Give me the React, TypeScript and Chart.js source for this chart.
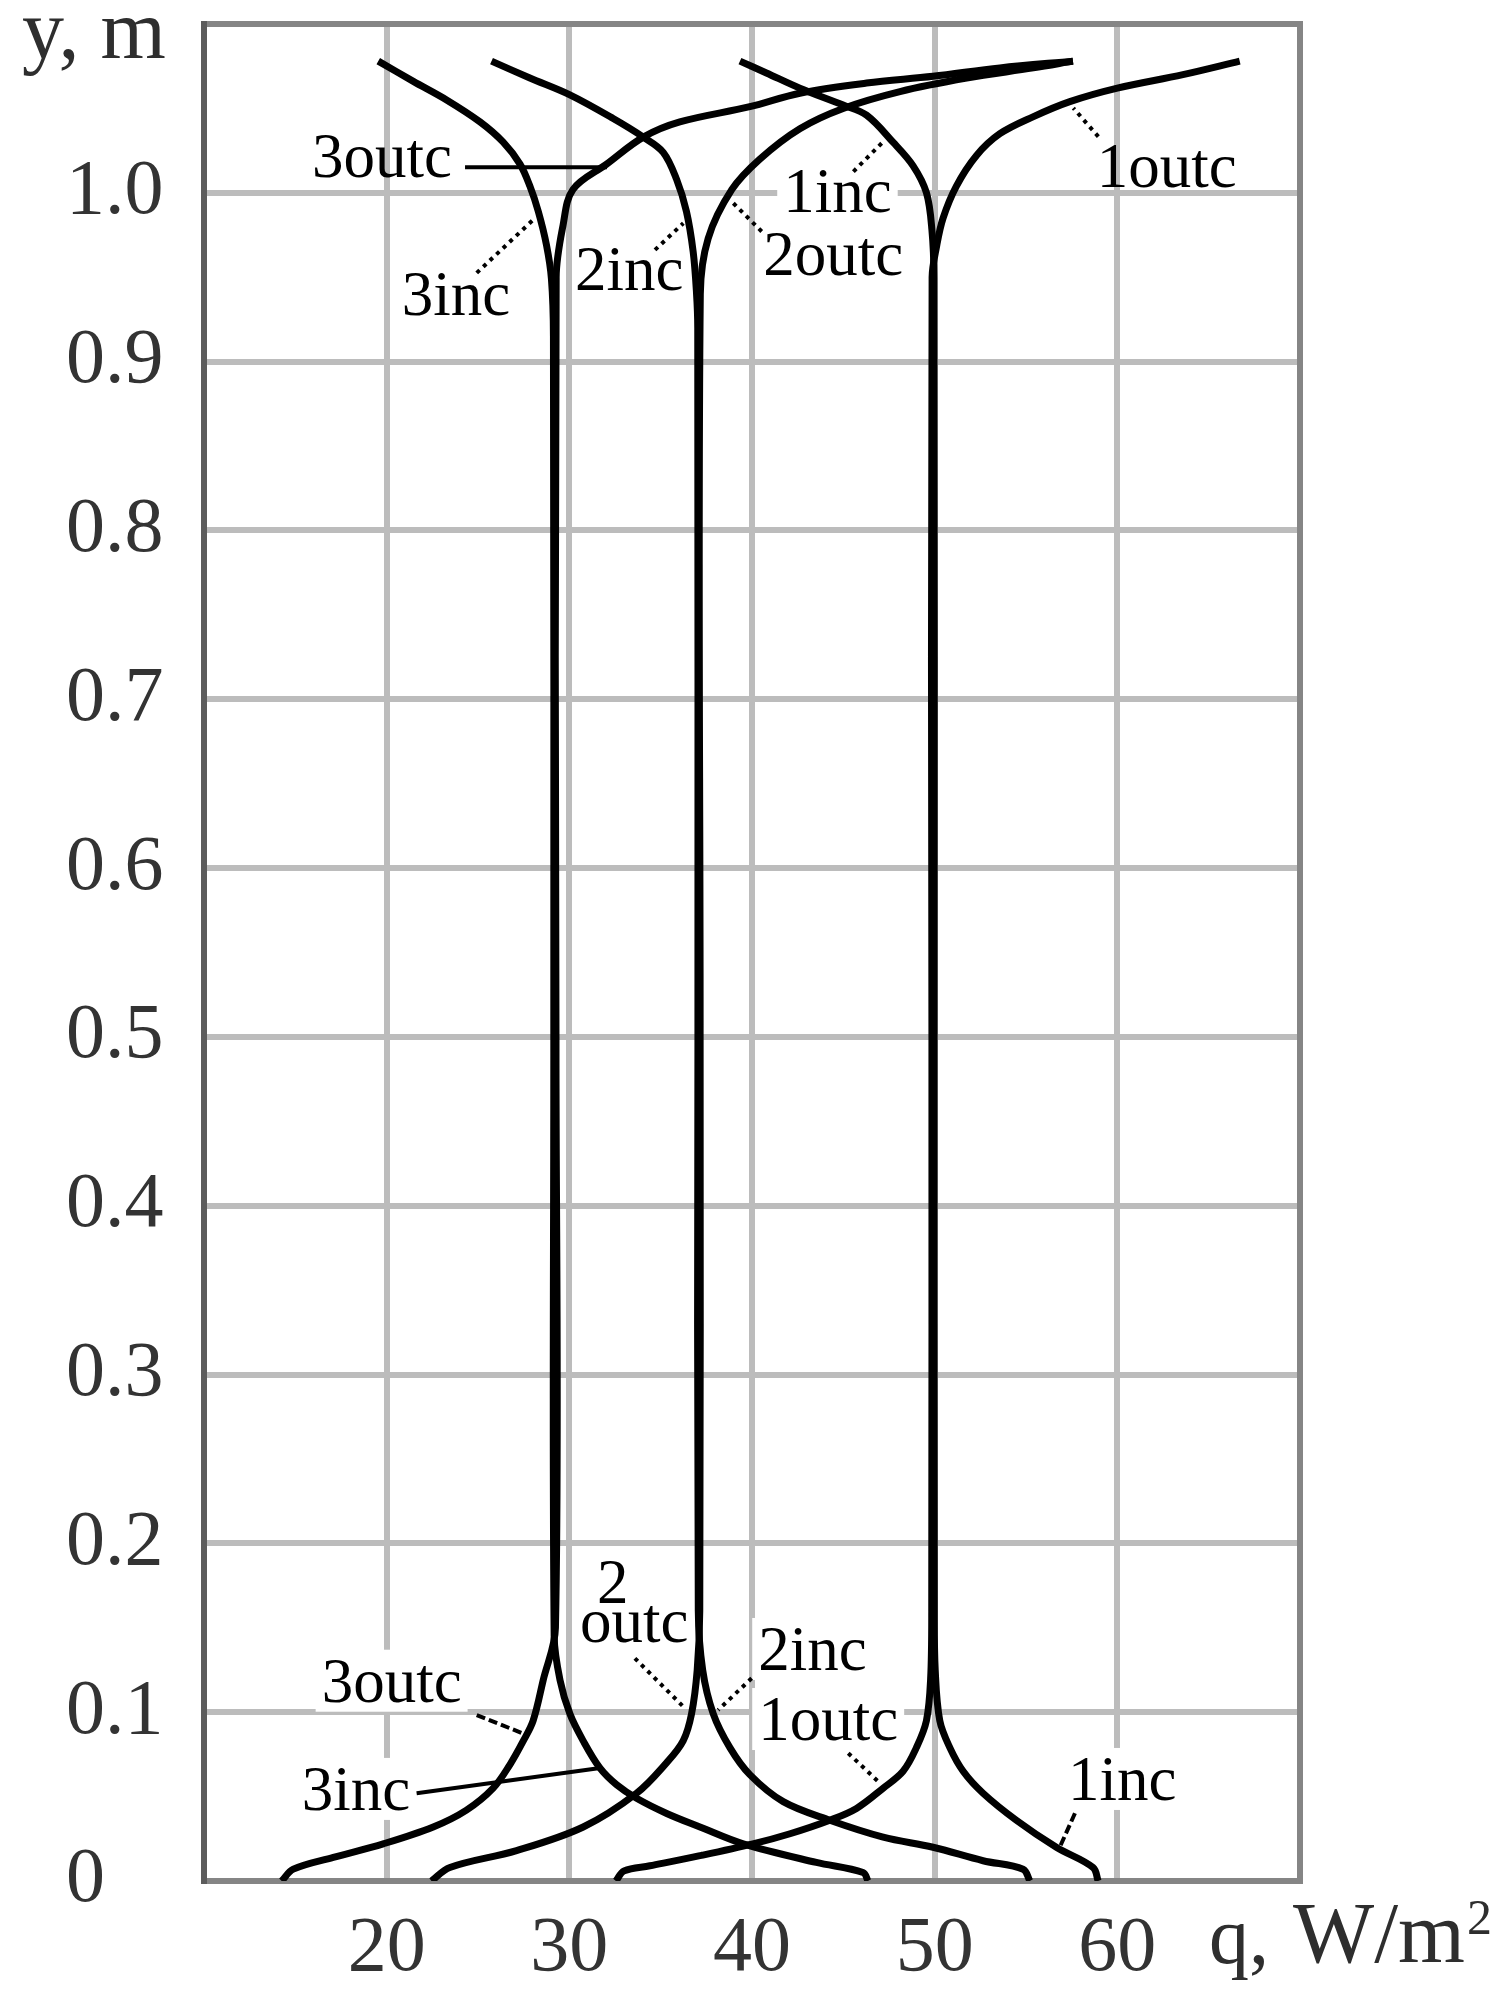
import React, { useEffect, useRef } from 'react';
import { Chart, registerables } from 'chart.js';

Chart.register(...registerables);

const SERIF = '"Liberation Serif", "Times New Roman", serif';

// ---- axes ----
const xTickValues = [20, 30, 40, 50, 60];
const yTickLabels = ['0', '0.1', '0.2', '0.3', '0.4', '0.5', '0.6', '0.7', '0.8', '0.9', '1.0'];
const xAxisTitle = ['q,', 'W/m', '2'];
const yAxisTitle = 'y, m';

// ---- curves: [q (W/m2), y (m)], bottom to top ----
const curve1inc: [number, number][] = [
  [58.95, 0], [58.67, 0.008], [56.66, 0.02], [54.47, 0.036], [52.65, 0.052], [51.56, 0.065],
  [50.83, 0.079], [50.28, 0.095], [50.03, 0.125], [49.98, 0.16], [49.97, 0.5], [49.96, 0.95],
  [49.85, 0.978], [49.55, 1.0], [48.82, 1.016], [47.72, 1.03], [46.27, 1.046], [44.99, 1.052],
  [42.62, 1.062], [40.79, 1.071], [39.34, 1.078],
];
const curve1outc: [number, number][] = [
  [32.55, 0], [33.0, 0.006], [34.41, 0.009], [37.15, 0.015], [40.05, 0.022], [42.08, 0.028],
  [44.26, 0.036], [45.72, 0.043], [47.18, 0.055], [48.27, 0.065], [49.0, 0.079], [49.55, 0.095],
  [49.78, 0.12], [49.84, 0.16], [49.85, 0.5], [49.86, 0.95], [50.1, 0.968], [50.46, 0.985],
  [51.19, 1.004], [52.28, 1.022], [53.57, 1.035], [55.38, 1.045], [57.4, 1.054], [60.0, 1.062],
  [63.59, 1.07], [66.7, 1.078],
];
const curve2inc: [number, number][] = [
  [55.21, 0], [54.84, 0.007], [52.65, 0.012], [49.91, 0.02], [47.18, 0.026], [44.26, 0.036],
  [41.71, 0.047], [39.88, 0.063], [38.79, 0.079], [37.88, 0.099], [37.3, 0.125], [37.06, 0.16],
  [37.04, 0.5], [37.03, 0.92], [36.96, 0.941], [36.78, 0.965], [36.41, 0.989], [35.87, 1.008],
  [35.14, 1.024], [34.05, 1.033], [32.4, 1.044], [30.03, 1.058], [27.84, 1.068], [25.74, 1.078],
];
const curve2outc: [number, number][] = [
  [22.45, 0], [23.46, 0.008], [27.11, 0.018], [30.76, 0.032], [33.68, 0.052], [35.32, 0.07],
  [36.23, 0.083], [36.69, 0.099], [37.0, 0.125], [37.14, 0.16], [37.16, 0.5], [37.17, 0.94],
  [37.6, 0.973], [38.9, 1.002], [40.43, 1.02], [42.62, 1.038], [44.99, 1.05], [48.1, 1.06],
  [51.75, 1.068], [55.4, 1.074], [57.57, 1.078],
];
const curve3inc: [number, number][] = [
  [46.35, 0], [46.08, 0.005], [43.52, 0.011], [39.52, 0.022], [37.15, 0.032], [35.33, 0.04],
  [33.68, 0.049], [32.59, 0.057], [31.67, 0.067], [30.76, 0.083], [30.03, 0.099], [29.49, 0.119],
  [29.17, 0.145], [29.15, 0.5], [29.13, 0.915], [29.02, 0.949], [28.75, 0.969], [28.3, 0.989],
  [27.84, 1.004], [27.3, 1.017], [26.38, 1.03], [25.11, 1.042], [23.28, 1.055], [21.46, 1.066],
  [19.54, 1.078],
];
const curve3outc: [number, number][] = [
  [14.25, 0], [14.89, 0.007], [17.08, 0.014], [19.81, 0.022], [22.55, 0.032], [24.37, 0.042],
  [25.83, 0.055], [26.75, 0.069], [27.48, 0.083], [28.02, 0.095], [28.57, 0.119], [29.24, 0.15],
  [29.27, 0.5], [29.28, 0.95], [29.66, 0.981], [30.2, 1.002], [32.04, 1.017], [34.05, 1.033],
  [36.05, 1.042], [39.88, 1.051], [42.62, 1.059], [46.27, 1.065], [49.91, 1.069], [53.57, 1.074],
  [57.57, 1.078],
];
const seriesNames = ['1inc', '1outc', '2inc', '2outc', '3inc', '3outc'];
const seriesPoints = [curve1inc, curve1outc, curve2inc, curve2outc, curve3inc, curve3outc];

// ---- curve labels (text anchored at left / baseline, in data units) ----
const labelTexts = ['3outc', '3inc', '2inc', '1inc', '2outc', '1outc', '3outc', '3inc', 'outc', '2', '2inc', '1outc', '1inc'];
const labelQ = [15.91, 20.82, 30.31, 41.71, 40.62, 58.87, 16.44, 15.35, 30.58, 31.51, 40.34, 40.34, 57.3];
const labelY = [1.0095, 0.9277, 0.9425, 0.9889, 0.9514, 1.0037, 0.1062, 0.0421, 0.1418, 0.1647, 0.125, 0.0835, 0.048];
const labelBox = [false, false, false, true, false, false, true, true, true, true, true, true, true];

// ---- leader lines ----
const leaderFrom: [number, number][] = [
  [24.29, 1.0151], [24.93, 0.9526], [34.69, 0.9662], [45.55, 1.0126], [40.53, 0.9771], [58.96, 1.0333],
  [24.93, 0.0983], [21.64, 0.052], [33.59, 0.1319], [39.98, 0.1201], [45.27, 0.0757], [57.68, 0.0401],
];
const leaderTo: [number, number][] = [
  [32.06, 1.0151], [28.12, 0.985], [36.24, 0.982], [47.1, 1.0294], [38.89, 0.9948], [57.59, 1.0502],
  [27.67, 0.0865], [31.59, 0.0668], [36.24, 0.1033], [38.15, 0.1013], [47.01, 0.0579], [56.86, 0.0203],
];
const leaderStyle = ['solid', 'dot', 'dot', 'dot', 'dot', 'dot', 'dash', 'solid', 'dot', 'dot', 'dot', 'dash'];

const LABEL_FONT = `63px ${SERIF}`;

export default function App() {
  const ref = useRef<HTMLCanvasElement>(null);

  useEffect(() => {
    const canvas = ref.current;
    if (!canvas) return;

    const annotate = {
      id: 'annotate',
      beforeDatasetsDraw(chart: any) {
        const { ctx, chartArea: a, scales } = chart;
        const xs = scales.x, ys = scales.y;
        ctx.save();
        ctx.font = LABEL_FONT;
        ctx.fillStyle = '#ffffff';
        labelTexts.forEach((t, i) => {
          if (!labelBox[i]) return;
          const px = xs.getPixelForValue(labelQ[i]);
          const py = ys.getPixelForValue(labelY[i]);
          const w = ctx.measureText(t).width;
          ctx.fillRect(px - 6, py - 52, w + 12, 62);
        });
        // plot frame
        ctx.lineCap = 'square';
        ctx.lineWidth = 6;
        ctx.strokeStyle = '#858585';
        ctx.beginPath();
        ctx.moveTo(a.left, a.top);
        ctx.lineTo(a.right, a.top);
        ctx.lineTo(a.right, a.bottom);
        ctx.lineTo(a.left, a.bottom);
        ctx.stroke();
        ctx.strokeStyle = '#5c5c5c';
        ctx.beginPath();
        ctx.moveTo(a.left, a.top);
        ctx.lineTo(a.left, a.bottom);
        ctx.stroke();
        ctx.restore();
      },
      afterDatasetsDraw(chart: any) {
        const { ctx, scales } = chart;
        const xs = scales.x, ys = scales.y;
        ctx.save();
        ctx.strokeStyle = '#000';
        ctx.lineWidth = 4;
        ctx.lineCap = 'butt';
        leaderFrom.forEach((p, i) => {
          const st = leaderStyle[i];
          ctx.setLineDash(st === 'dot' ? [4, 5] : st === 'dash' ? [9, 4] : []);
          ctx.beginPath();
          ctx.moveTo(xs.getPixelForValue(p[0]), ys.getPixelForValue(p[1]));
          ctx.lineTo(xs.getPixelForValue(leaderTo[i][0]), ys.getPixelForValue(leaderTo[i][1]));
          ctx.stroke();
        });
        ctx.setLineDash([]);
        ctx.font = LABEL_FONT;
        ctx.fillStyle = '#000';
        ctx.textAlign = 'left';
        ctx.textBaseline = 'alphabetic';
        labelTexts.forEach((t, i) => {
          ctx.fillText(t, xs.getPixelForValue(labelQ[i]), ys.getPixelForValue(labelY[i]));
        });
        ctx.restore();
      },
      afterDraw(chart: any) {
        const { ctx, chartArea: a } = chart;
        ctx.save();
        ctx.fillStyle = '#2e2e2e';
        ctx.textAlign = 'left';
        ctx.textBaseline = 'alphabetic';
        ctx.font = `84px ${SERIF}`;
        ctx.fillText(yAxisTitle, a.left - 182, a.top + 34);
        ctx.font = `80px ${SERIF}`;
        ctx.fillText(xAxisTitle[0], a.right - 91, a.bottom + 82);
        ctx.font = `86px ${SERIF}`;
        const wx = a.right - 7;
        ctx.fillText(xAxisTitle[1], wx, a.bottom + 81);
        const w = ctx.measureText(xAxisTitle[1]).width;
        ctx.font = `50px ${SERIF}`;
        ctx.fillText(xAxisTitle[2], wx + w + 2, a.bottom + 53);
        ctx.restore();
      },
    };

    const gridColor = (edge: (v: number) => boolean) => (c: any) =>
      c.tick && edge(c.tick.value) ? 'rgba(0,0,0,0)' : '#bcbcbc';

    const noPad = (s: any) => {
      s.paddingTop = 0;
      s.paddingBottom = 0;
      s.paddingLeft = 0;
      s.paddingRight = 0;
    };

    const chart = new Chart(canvas, {
      type: 'scatter',
      data: {
        datasets: seriesPoints.map((pts, i) => ({
          label: seriesNames[i],
          data: pts.map(([q, y]) => ({ x: q, y })),
          showLine: true,
          borderColor: '#000000',
          backgroundColor: '#000000',
          borderWidth: 7,
          pointRadius: 0,
          pointHoverRadius: 0,
          tension: 0.35,
          fill: false,
          borderJoinStyle: 'round',
        })),
      },
      options: {
        responsive: false,
        animation: false,
        devicePixelRatio: 1,
        events: [],
        layout: { padding: { left: 58, right: 196, top: 16, bottom: 0 } },
        plugins: { legend: { display: false }, tooltip: { enabled: false } },
        scales: {
          x: {
            type: 'linear',
            min: 10,
            max: 70,
            afterFit: (s: any) => { s.height = 109; noPad(s); },
            border: { display: false },
            grid: {
              color: gridColor((v) => v <= 10 || v >= 70),
              lineWidth: 6,
              drawTicks: false,
            },
            ticks: {
              stepSize: 10,
              autoSkip: false,
              maxRotation: 0,
              padding: 22,
              color: '#333333',
              font: { family: SERIF, size: 78 },
              callback: (v: any) => (xTickValues.includes(Number(v)) ? String(v) : ''),
            },
          },
          y: {
            type: 'linear',
            min: 0,
            max: 1.1,
            afterFit: (s: any) => { s.width = 138; noPad(s); },
            border: { display: false },
            grid: {
              color: gridColor((v) => v <= 0.0001 || v >= 1.05),
              lineWidth: 6,
              drawTicks: false,
            },
            ticks: {
              stepSize: 0.1,
              autoSkip: false,
              crossAlign: 'far',
              padding: 0,
              color: '#333333',
              font: { family: SERIF, size: 78 },
              callback: (v: any) => {
                const i = Math.round(Number(v) * 10);
                return i >= 0 && i < yTickLabels.length ? yTickLabels[i] : '';
              },
            },
          },
        },
      } as any,
      plugins: [annotate],
    });

    return () => chart.destroy();
  }, []);

  return <canvas ref={ref} width={1488} height={1982} style={{ display: 'block' }} />;
}
